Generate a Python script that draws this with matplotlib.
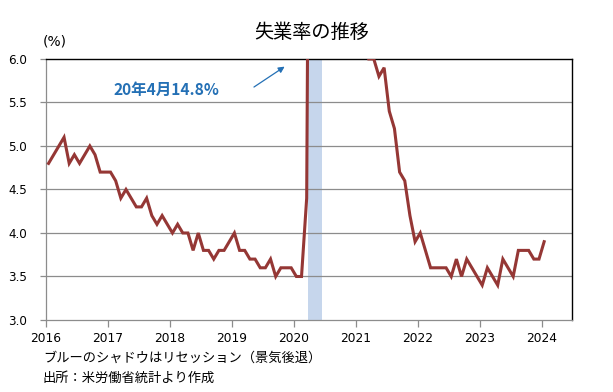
import matplotlib
matplotlib.use("Agg")
import matplotlib.pyplot as plt
import numpy as np

plt.rcParams['font.family'] = ['Noto Sans CJK JP', 'DejaVu Sans']

# monthly unemployment rate (%), Jan 2016 .. Jan 2024
rate_2016 = [4.8, 4.9, 5.0, 5.1, 4.8, 4.9, 4.8, 4.9, 5.0, 4.9, 4.7, 4.7]
rate_2017 = [4.7, 4.6, 4.4, 4.5, 4.4, 4.3, 4.3, 4.4, 4.2, 4.1, 4.2, 4.1]
rate_2018 = [4.0, 4.1, 4.0, 4.0, 3.8, 4.0, 3.8, 3.8, 3.7, 3.8, 3.8, 3.9]
rate_2019 = [4.0, 3.8, 3.8, 3.7, 3.7, 3.6, 3.6, 3.7, 3.5, 3.6, 3.6, 3.6]
rate_2020 = [3.5, 3.5, 4.4, 14.8, 13.3, 11.1, 10.2, 8.4, 7.9, 6.9, 6.7, 6.7]
rate_2021 = [6.4, 6.2, 6.0, 6.0, 5.8, 5.9, 5.4, 5.2, 4.7, 4.6, 4.2, 3.9]
rate_2022 = [4.0, 3.8, 3.6, 3.6, 3.6, 3.6, 3.5, 3.7, 3.5, 3.7, 3.6, 3.5]
rate_2023 = [3.4, 3.6, 3.5, 3.4, 3.7, 3.6, 3.5, 3.8, 3.8, 3.8, 3.7, 3.7]
rate_2024 = [3.9]
start_year = 2016

# recession (shaded), decimal years
rec_start = 2020.233
rec_end = 2020.449

year_ticks = list(range(2016, 2025))
y_ticks = [3.0, 3.5, 4.0, 4.5, 5.0, 5.5, 6.0]

rate = (rate_2016 + rate_2017 + rate_2018 + rate_2019 + rate_2020
        + rate_2021 + rate_2022 + rate_2023 + rate_2024)
t = start_year + (np.arange(len(rate)) + 0.5) / 12

fig = plt.figure(figsize=(6.13, 3.92), dpi=100)
ax = fig.add_axes([0.075, 0.1837, 0.858, 0.6658])

ax.axvspan(rec_start, rec_end, color='#c6d6ec', lw=0, zorder=1)
ax.plot(t, rate, color='#953735', lw=2.2, zorder=3, solid_joinstyle='miter')

ax.set_xlim(2016, 2024.49)
ax.set_ylim(3.0, 6.0)
ax.set_xticks(year_ticks)
ax.set_xticklabels([str(y) for y in year_ticks], family='DejaVu Sans')
ax.set_yticks(y_ticks)
ax.set_yticklabels(['%.1f' % v for v in y_ticks], family='DejaVu Sans')
for v in y_ticks[1:-1]:
    ax.axhline(v, color='#8c8c8c', lw=0.9, zorder=2)

ax.tick_params(axis='x', direction='out', length=5, width=0.9, color='#8c8c8c',
               labelsize=8.8, pad=4)
ax.tick_params(axis='y', direction='out', length=4.3, width=0.9, color='#8c8c8c',
               labelsize=8.6, pad=9.5)
for s in ['left', 'bottom']:
    ax.spines[s].set_color('#8c8c8c')
    ax.spines[s].set_linewidth(0.9)
for s in ['top', 'right']:
    ax.spines[s].set_color('black')
    ax.spines[s].set_linewidth(1.0)

fig.text(0.508, 0.916, '失業率の推移', ha='center', va='center', fontsize=13.8)
fig.text(0.069, 0.893, '(%)', ha='left', va='center', fontsize=10,
         family='DejaVu Sans')

ax.text(2017.95, 5.64, '20年4月14.8%', color='#2470b5', fontsize=11.2,
        fontweight='bold', ha='center', va='center')
ax.annotate('', xy=(2019.89, 5.93), xytext=(2019.32, 5.66),
            arrowprops=dict(arrowstyle='-|>', color='#2470b5', lw=0.9,
                            mutation_scale=9))

fig.text(0.070, 0.087, 'ブルーのシャドウはリセッション（景気後退）', ha='left',
         va='center', fontsize=9.55)
fig.text(0.070, 0.036, '出所：米労働省統計より作成', ha='left', va='center',
         fontsize=9.55)

fig.savefig('out.png', dpi=100)
